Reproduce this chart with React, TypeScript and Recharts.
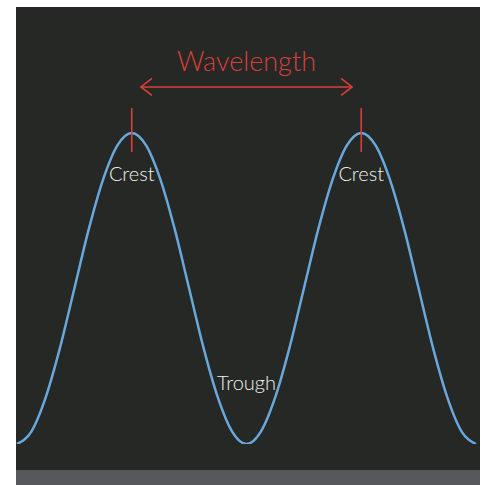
import {Line, LineChart, ReferenceDot, ReferenceLine, XAxis, YAxis} from 'recharts'

// wave samples, 16 per wavelength, two wavelengths (trough -> crest -> trough)
const phase = [
    0, 0.0625, 0.125, 0.1875, 0.25, 0.3125, 0.375, 0.4375, 0.5, 0.5625, 0.625, 0.6875, 0.75, 0.8125, 0.875, 0.9375,
    1, 1.0625, 1.125, 1.1875, 1.25, 1.3125, 1.375, 1.4375, 1.5, 1.5625, 1.625, 1.6875, 1.75, 1.8125, 1.875, 1.9375, 2,
]
const height = [
    0, 0.04, 0.15, 0.31, 0.5, 0.69, 0.85, 0.96, 1, 0.96, 0.85, 0.69, 0.5, 0.31, 0.15, 0.04,
    0, 0.04, 0.15, 0.31, 0.5, 0.69, 0.85, 0.96, 1, 0.96, 0.85, 0.69, 0.5, 0.31, 0.15, 0.04, 0,
]

const crests = [0.5, 1.5]
const troughAt = 1
const wavelengthSpan = [0.54, 1.46]
const arrowLevel = 1.148
const crestTick = [0.939, 1.08]
const titleLevel = 1.2
const crestLabelLevel = 0.846
const troughLabelLevel = 0.174

const BG = '#252824'
const RED = '#dc3f3a'
const BLUE = '#6aa8dc'
const TEXT = '#f2f2f0'
const FONT = 'Lato, "Open Sans", sans-serif'

const data = phase.map((p, i) => ({p, h: height[i]}))

// horizontal double-headed arrow drawn between the segment ends
const Arrow = (props: any) => {
    const {x1, y1, x2} = props
    const a = 11, b = 8.5
    return (
        <g stroke={RED} strokeWidth={1.6} fill="none">
            <line x1={x1} y1={y1} x2={x2} y2={y1}/>
            <polyline points={`${x1 + a},${y1 - b} ${x1},${y1} ${x1 + a},${y1 + b}`}/>
            <polyline points={`${x2 - a},${y1 - b} ${x2},${y1} ${x2 - a},${y1 + b}`}/>
        </g>
    )
}

const label = (txt: string, size: number, color: string) => (props: any) => (
    <text x={props.cx} y={props.cy} textAnchor="middle" fontSize={size} fill={color}
          fontFamily={FONT} fontWeight={300}>{txt}</text>
)

export default function App() {
    return (
        <div style={{position: 'absolute', left: 0, top: 0, width: 486, height: 485, background: '#fff'}}>
            <div style={{position: 'absolute', left: 16, top: 7, width: 464, height: 463, background: BG}}/>
            <div style={{position: 'absolute', left: 16, top: 470, width: 464, height: 15, background: '#56585c'}}/>
            <div style={{position: 'absolute', left: 16, top: 7}}>
                <LineChart width={464} height={478} data={data} margin={{top: 0, right: 4, bottom: 41, left: 1}}>
                    <XAxis dataKey="p" type="number" domain={[0, 2]} hide/>
                    <YAxis type="number" domain={[0, 1.405]} hide allowDataOverflow/>
                    <Line type="monotone" dataKey="h" stroke={BLUE} strokeWidth={2.5} dot={false}
                          isAnimationActive={false}/>
                    <ReferenceLine segment={[{x: wavelengthSpan[0], y: arrowLevel}, {x: wavelengthSpan[1], y: arrowLevel}]}
                                   shape={Arrow}/>
                    {crests.map(c => (
                        <ReferenceLine key={`t${c}`} segment={[{x: c, y: crestTick[0]}, {x: c, y: crestTick[1]}]}
                                       stroke={RED} strokeWidth={1.6}/>
                    ))}
                    <ReferenceDot x={troughAt} y={titleLevel} r={0} shape={label('Wavelength', 27, RED)}/>
                    {crests.map(c => (
                        <ReferenceDot key={`c${c}`} x={c} y={crestLabelLevel} r={0}
                                      shape={label('Crest', 20, TEXT)}/>
                    ))}
                    <ReferenceDot x={troughAt} y={troughLabelLevel} r={0} shape={label('Trough', 20, TEXT)}/>
                </LineChart>
            </div>
        </div>
    )
}
